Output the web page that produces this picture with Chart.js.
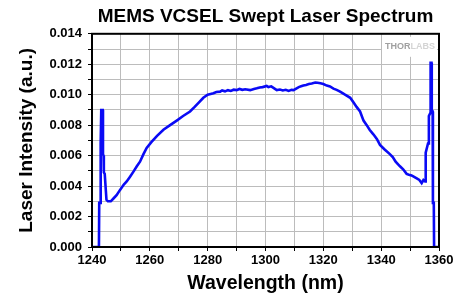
<!DOCTYPE html>
<html>
<head>
<meta charset="utf-8">
<script src="https://cdn.jsdelivr.net/npm/chart.js@4.4.1/dist/chart.umd.min.js"></script>
<style>
  html, body { margin: 0; padding: 0; background: #fff; }
  canvas { display: block; }
</style>
</head>
<body>
<canvas id="spectrum" width="470" height="295"></canvas>
<script>
// wavelength (nm) and intensity (a.u.)
const wavelength = [
  1240, 1242.4, 1242.5, 1242.8, 1242.9, 1243.1, 1243.2, 1243.7, 1243.8, 1244.0,
  1244.1, 1244.4, 1245.0, 1245.5, 1246.5, 1247.5, 1248.5, 1249.7, 1251, 1252,
  1253.1, 1254.5, 1255.5, 1256.6, 1257.8, 1258.9, 1260.6, 1262.5, 1264.7, 1267,
  1269.3, 1271.5, 1273.9, 1275.5, 1277, 1278.5, 1280, 1281, 1282, 1283, 1284.3, 1285, 1286,
  1287, 1288, 1289, 1290, 1291, 1292, 1293, 1294.7, 1296, 1297, 1298, 1299, 1300.4, 1301, 1302, 1303.9, 1305, 1306,
  1307, 1308, 1309, 1309.7, 1311.5, 1312.3, 1313.1, 1314, 1315, 1316, 1317.2, 1318, 1319, 1320, 1321.2, 1322.3, 1323.5, 1324.6, 1325.8,
  1327.5, 1329.3, 1330.4, 1331.5, 1332.7, 1333.9, 1335, 1336, 1337.3, 1338.5, 1339.6,
  1341.2, 1343, 1344, 1345, 1346.5, 1347.6, 1348.8, 1349.6, 1350.5, 1351.4, 1352.3, 1353.2, 1354, 1354.6,
  1355.2, 1355.4, 1356.2, 1356.5, 1357.0, 1357.1, 1357.4, 1357.5, 1357.8, 1357.9,
  1358.2, 1358.3, 1360
];
const intensity = [
  0, 0, 0.0029, 0.0029, 0.0068, 0.0068, 0.0090, 0.0090, 0.0061, 0.0060,
  0.0049, 0.0048, 0.0031, 0.0030, 0.0030, 0.0032, 0.0034, 0.00375, 0.0041, 0.0043,
  0.0046, 0.0050, 0.0053, 0.0056, 0.0061, 0.0065, 0.0069, 0.0073, 0.0077, 0.0080,
  0.0083, 0.0086, 0.0089, 0.0092, 0.0095, 0.0098, 0.0100, 0.01005, 0.0101, 0.01018, 0.0102, 0.01028, 0.01022,
  0.0103, 0.01025, 0.01033, 0.0103, 0.01038, 0.01032, 0.01036, 0.0103, 0.01038, 0.01042, 0.01048, 0.0105, 0.01058, 0.0105, 0.01055, 0.0103, 0.01034, 0.01028,
  0.01032, 0.01025, 0.01032, 0.0103, 0.0105, 0.01055, 0.0106, 0.01064, 0.0107, 0.01074, 0.0108, 0.01078, 0.01075, 0.0107, 0.0106, 0.01054, 0.0104, 0.01032, 0.0102,
  0.0100, 0.0098, 0.0095, 0.0092, 0.0089, 0.0083, 0.0080, 0.0077, 0.0074, 0.0071, 0.0067,
  0.0064, 0.0061, 0.0059, 0.0056, 0.0053, 0.0051, 0.0048, 0.00475, 0.0047, 0.0046, 0.0045, 0.0044, 0.0042, 0.0044,
  0.0043, 0.0062, 0.0068, 0.0086, 0.0088, 0.0121, 0.0121, 0.0089, 0.0089, 0.0029,
  0.0029, 0, 0
];

const xMin = 1240, xMax = 1360, xStep = 10;
const yMin = 0, yMax = 0.014, yStep = 0.001;

const points = wavelength.map((w, i) => ({ x: w, y: intensity[i] }));

const fontFam = "'Liberation Sans', Arial, sans-serif";

// black frame round the plot plus the little logo box
const frameAndLogo = {
  id: 'frameAndLogo',
  beforeDatasetsDraw(chart) {
    const { ctx, chartArea: a } = chart;
    ctx.save();
    ctx.fillStyle = '#fff';
    ctx.fillRect(a.right - 57, a.top + 3, 55, 20);
    ctx.font = "bold 9px " + fontFam;
    ctx.textBaseline = 'middle';
    ctx.textAlign = 'left';
    const x0 = a.right - 54;
    ctx.fillStyle = '#a0a0a0';
    ctx.fillText('THOR', x0, a.top + 13);
    const w = ctx.measureText('THOR').width;
    ctx.fillStyle = '#d4d4d4';
    ctx.fillText('LABS', x0 + w, a.top + 13);
    ctx.restore();
  },
  afterDraw(chart) {
    const { ctx, chartArea: a } = chart;
    ctx.save();
    ctx.strokeStyle = '#000';
    ctx.lineWidth = 2;
    ctx.strokeRect(a.left, a.top, a.right - a.left, a.bottom - a.top);
    ctx.restore();
  }
};

new Chart(document.getElementById('spectrum'), {
  type: 'line',
  data: {
    datasets: [{
      data: points,
      borderColor: '#0a0af5',
      borderWidth: 2.6,
      pointRadius: 0,
      tension: 0,
      fill: false
    }]
  },
  options: {
    responsive: false,
    animation: false,
    devicePixelRatio: 1,
    layout: { padding: { left: 0, right: 31, top: 0, bottom: 0 } },
    plugins: {
      legend: { display: false },
      tooltip: { enabled: false },
      title: {
        display: true,
        fullSize: false,
        text: 'MEMS VCSEL Swept Laser Spectrum',
        color: '#000',
        font: { family: fontFam, size: 19, weight: 'bold' },
        padding: { top: 5, bottom: 6 }
      }
    },
    scales: {
      x: {
        type: 'linear',
        min: xMin, max: xMax,
        afterFit: s => { s.height = 48; },
        ticks: {
          stepSize: xStep,
          autoSkip: false,
          color: '#000',
          padding: 2,
          maxRotation: 0,
          font: { family: fontFam, size: 13, weight: 'bold' },
          callback: v => (Math.round(v) % 20 === 0 ? String(Math.round(v)) : '')
        },
        grid: { display: true, drawOnChartArea: true, drawTicks: true, color: '#bcbcbc', tickColor: '#000', tickLength: 4, lineWidth: 1 },
        border: { display: true, color: '#000', width: 2 },
        title: {
          display: true,
          text: 'Wavelength (nm)',
          color: '#000',
          font: { family: fontFam, size: 19.5, weight: 'bold' },
          padding: { top: 0, bottom: 0 }
        }
      },
      y: {
        min: yMin, max: yMax,
        afterFit: s => { s.width = 92; },
        ticks: {
          stepSize: yStep,
          autoSkip: false,
          color: '#000',
          padding: 6,
          font: { family: fontFam, size: 13, weight: 'bold' },
          callback: v => {
            const k = Math.round(v * 1000);
            return k % 2 === 0 ? (k / 1000).toFixed(3) : '';
          }
        },
        grid: { display: true, drawOnChartArea: true, drawTicks: true, color: '#bcbcbc', tickColor: '#000', tickLength: 4, lineWidth: 1 },
        border: { display: true, color: '#000', width: 2 },
        title: {
          display: true,
          text: 'Laser Intensity (a.u.)',
          color: '#000',
          font: { family: fontFam, size: 19, weight: 'bold' },
          padding: { top: 15, bottom: 0 }
        }
      }
    }
  },
  plugins: [frameAndLogo]
});
</script>
</body>
</html>
